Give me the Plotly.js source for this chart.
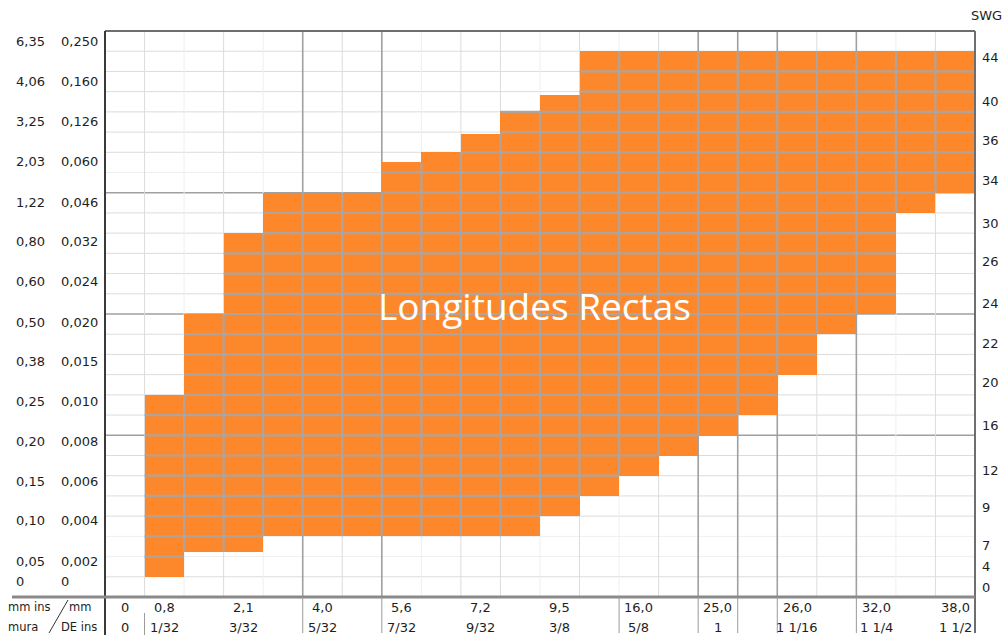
<!DOCTYPE html>
<html>
<head>
<meta charset="utf-8">
<script src="https://cdn.plot.ly/plotly-3.0.1.min.js"></script>
<style>
  html, body { margin: 0; padding: 0; background: #ffffff; }
  #chart { width: 1008px; height: 635px; }
</style>
</head>
<body>
<div id="chart"></div>
<script>
// ---- data (column index 0..21, rows in grid units 0..28) ----
const nCols = 22;
const nRows = 28;
const colBottom = [null, 1, 2.25, 2.25, 3, 3, 3, 3, 3, 3, 3, 4, 5, 6, 7, 8, 9, 11, 13, 14, 19, 20];
const colTop    = [null, 10, 14, 18, 20, 20, 20, 21.5, 22, 22.9, 24.05, 24.85, 27, 27, 27, 27, 27, 27, 27, 27, 27, 27];

// left axis labels (mm and inches)
const mmLabels  = ["6,35","4,06","3,25","2,03","1,22","0,80","0,60","0,50","0,38","0,25","0,20","0,15","0,10","0,05","0"];
const insLabels = ["0,250","0,160","0,126","0,060","0,046","0,032","0,024","0,020","0,015","0,010","0,008","0,006","0,004","0,002","0"];
const leftLabelRows = [27.46, 25.48, 23.5, 21.52, 19.54, 17.57, 15.59, 13.6, 11.63, 9.65, 7.67, 5.69, 3.76, 1.78, 0.79];

// right axis labels (SWG)
const swgLabels = ["44","40","36","34","30","26","24","22","20","16","12","9","7","4","0"];
const swgRows   = [26.67, 24.49, 22.56, 20.58, 18.46, 16.58, 14.5, 12.52, 10.59, 8.46, 6.28, 4.45, 2.57, 1.53, 0.45];

// bottom labels (diameter mm / inches)
const diamCols = [0, 1, 3, 5, 7, 9, 11, 13, 15, 17, 19, 21];
const diamMm   = ["0","0,8","2,1","4,0","5,6","7,2","9,5","16,0","25,0","26,0","32,0","38,0"];
const diamIns  = ["0","1/32","3/32","5/32","7/32","9/32","3/8","5/8","1","1 1/16","1 1/4","1 1/2"];

const majorRows = [8, 14, 20];
const majorCols = [5, 7, 15, 16, 17, 19];
const faintRows = [2, 3, 21];
const faintCols = [2, 4, 8, 11, 13, 20];
const labelSepCols = [5, 7, 13, 15, 16, 17, 19];

// ---- styles ----
const ORANGE = '#FD882B';
const CELL_LINE = '#B0A39B';
const LIGHT_GRID = '#DCDCDC';
const FAINT_GRID = '#EFEFEF';
const MAJOR_GRID = '#A0A0A0';
const TXT = '#1E1E1E';
const FONT = 'DejaVu Sans, Verdana, sans-serif';

// ---- traces ----
const barX = [], barBase = [], barH = [];
for (let c = 0; c < nCols; c++) {
  if (colBottom[c] === null) continue;
  barX.push(c + 0.5);
  barBase.push(colBottom[c]);
  barH.push(colTop[c] - colBottom[c]);
}
const bars = {
  type: 'bar', x: barX, y: barH, base: barBase, width: 1,
  marker: { color: ORANGE, line: { width: 0 } },
  hoverinfo: 'skip', showlegend: false
};

// cell borders inside the orange region
const lx = [], ly = [];
for (let c = 0; c < nCols; c++) {
  if (colBottom[c] === null) continue;
  for (let k = Math.floor(colBottom[c]) + 1; k < colTop[c]; k++) {
    lx.push(c, c + 1, null); ly.push(k, k, null);
  }
}
for (let b = 1; b < nCols; b++) {
  const a = b - 1;
  if (colBottom[a] === null || colBottom[b] === null) continue;
  const lo = Math.max(colBottom[a], colBottom[b]);
  const hi = Math.min(colTop[a], colTop[b]);
  if (hi > lo) { lx.push(b, b, null); ly.push(lo, hi, null); }
}
const cellLines = {
  type: 'scatter', mode: 'lines', x: lx, y: ly,
  line: { color: CELL_LINE, width: 2.2 },
  hoverinfo: 'skip', showlegend: false, connectgaps: false
};

// ---- shapes ----
const shapes = [];
function gridStyle(k, majors, faints) {
  if (majors.includes(k)) return { color: MAJOR_GRID, width: 1.6 };
  if (faints.includes(k)) return { color: FAINT_GRID, width: 1 };
  return { color: LIGHT_GRID, width: 1 };
}
for (let k = 1; k < nRows; k++) {
  shapes.push({ type: 'line', xref: 'x', yref: 'y', x0: 0, x1: nCols, y0: k, y1: k, layer: 'below',
    line: gridStyle(k, majorRows, faintRows) });
}
for (let b = 1; b < nCols; b++) {
  shapes.push({ type: 'line', xref: 'x', yref: 'y', x0: b, x1: b, y0: 0, y1: nRows, layer: 'below',
    line: gridStyle(b, majorCols, faintCols) });
}
// frame
const pxX = 870, pxY = 566;
const py = (p) => -p / pxY;   // pixels below plot bottom -> paper
shapes.push({ type: 'line', xref: 'paper', yref: 'paper', x0: 0, x1: 1, y0: 1, y1: 1, line: { color: '#6E6E6E', width: 2 } });
shapes.push({ type: 'line', xref: 'paper', yref: 'paper', x0: 1, x1: 1, y0: 1, y1: py(36), line: { color: '#6E6E6E', width: 2 } });
shapes.push({ type: 'line', xref: 'paper', yref: 'paper', x0: 0, x1: 0, y0: 1, y1: py(38), line: { color: '#3A3A3A', width: 2 } });
shapes.push({ type: 'line', xref: 'paper', yref: 'paper', x0: -93 / pxX, x1: 1, y0: 0, y1: 0, line: { color: '#8A8A8A', width: 3 } });
labelSepCols.forEach(b => {
  shapes.push({ type: 'line', xref: 'paper', yref: 'paper', x0: b / nCols, x1: b / nCols, y0: 0, y1: py(36), line: { color: '#9A9A9A', width: 1 } });
});
shapes.push({ type: 'line', xref: 'paper', yref: 'paper', x0: 1 / nCols, x1: 1 / nCols, y0: py(16), y1: py(38), line: { color: '#9A9A9A', width: 1 } });
// header slash
shapes.push({ type: 'line', xref: 'paper', yref: 'paper', x0: -56 / pxX, y0: py(36), x1: -37 / pxX, y1: py(3), line: { color: '#333', width: 1 } });

// ---- annotations ----
const ann = [];
const f13 = { family: FONT, size: 13, color: TXT };
for (let i = 0; i < mmLabels.length; i++) {
  ann.push({ xref: 'paper', yref: 'y', x: -91 / pxX, y: leftLabelRows[i], text: mmLabels[i], showarrow: false, xanchor: 'left', yanchor: 'middle', font: f13 });
  ann.push({ xref: 'paper', yref: 'y', x: -46 / pxX, y: leftLabelRows[i], text: insLabels[i], showarrow: false, xanchor: 'left', yanchor: 'middle', font: f13 });
}
for (let i = 0; i < swgLabels.length; i++) {
  ann.push({ xref: 'paper', yref: 'y', x: 1 + 5 / pxX, y: swgRows[i], text: swgLabels[i], showarrow: false, xanchor: 'left', yanchor: 'middle', font: f13 });
}
ann.push({ xref: 'paper', yref: 'paper', x: 1 - 6 / pxX, y: 1 + 16 / pxY, text: 'SWG', showarrow: false, xanchor: 'left', yanchor: 'middle', font: { family: FONT, size: 13, color: TXT } });
for (let i = 0; i < diamCols.length; i++) {
  ann.push({ xref: 'x', yref: 'paper', x: diamCols[i] + 0.5, y: py(10), text: diamMm[i], showarrow: false, xanchor: 'center', yanchor: 'middle', font: f13 });
  ann.push({ xref: 'x', yref: 'paper', x: diamCols[i] + 0.5, y: py(30), text: diamIns[i], showarrow: false, xanchor: 'center', yanchor: 'middle', font: f13 });
}
const f12 = { family: FONT, size: 11.5, color: TXT };
ann.push({ xref: 'paper', yref: 'paper', x: -99 / pxX, y: py(10), text: 'mm ins', showarrow: false, xanchor: 'left', yanchor: 'middle', font: f12 });
ann.push({ xref: 'paper', yref: 'paper', x: -38 / pxX, y: py(10), text: 'mm', showarrow: false, xanchor: 'left', yanchor: 'middle', font: f12 });
ann.push({ xref: 'paper', yref: 'paper', x: -99 / pxX, y: py(30), text: 'mura', showarrow: false, xanchor: 'left', yanchor: 'middle', font: f12 });
ann.push({ xref: 'paper', yref: 'paper', x: -46 / pxX, y: py(30), text: 'DE ins', showarrow: false, xanchor: 'left', yanchor: 'middle', font: f12 });
// inner label
ann.push({ xref: 'x', yref: 'y', x: 10.85, y: 14.4, text: 'Longitudes Rectas', showarrow: false, xanchor: 'center', yanchor: 'middle',
  font: { family: 'Open Sans, sans-serif', size: 37, color: '#ffffff' } });

const layout = {
  width: 1008, height: 635,
  margin: { l: 105, r: 33, t: 31, b: 38, pad: 0 },
  paper_bgcolor: '#ffffff', plot_bgcolor: '#ffffff',
  showlegend: false,
  bargap: 0,
  xaxis: { range: [0, nCols], showgrid: false, zeroline: false, showline: false, showticklabels: false, ticks: '', fixedrange: true },
  yaxis: { range: [0, nRows], showgrid: false, zeroline: false, showline: false, showticklabels: false, ticks: '', fixedrange: true },
  shapes: shapes,
  annotations: ann
};

Plotly.newPlot('chart', [bars, cellLines], layout, { displayModeBar: false, staticPlot: true });
</script>
</body>
</html>
